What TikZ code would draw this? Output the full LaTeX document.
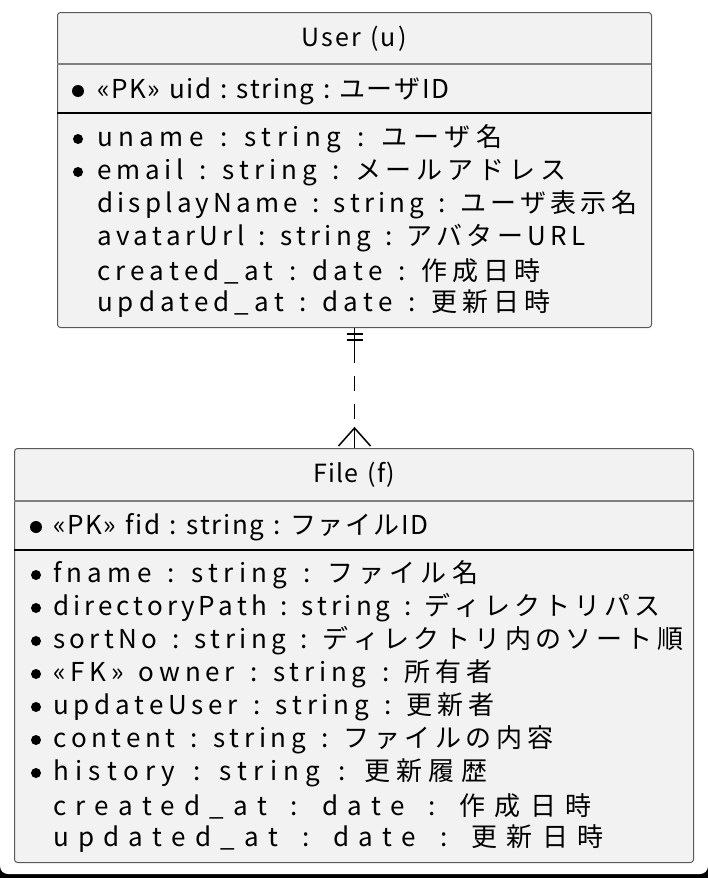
\documentclass[tikz,border=0pt]{standalone}
\usepackage{fontspec}
\setmainfont{Noto Sans CJK JP}
\usepackage{tikz}
\usetikzlibrary{positioning,calc}
\ExplSyntaxOn
\NewDocumentCommand\spread{mm}{\makebox[#1][s]{\tl_map_inline:nn{#2}{##1\hfil}\unskip}}
\ExplSyntaxOff
\tikzset{
  entity/.style={draw=black!65, fill=black!5, rounded corners=3pt, line width=1pt, inner sep=0pt, anchor=north west},
  entitytitle/.style={inner sep=0pt, font=\fontsize{25}{29}\selectfont},
  attr/.style={inner sep=0pt, anchor=west, font=\fontsize{26}{30}\selectfont},
  keydot/.style={circle, fill=black, inner sep=0pt, minimum size=12pt},
  attrdot/.style={circle, fill=black, inner sep=0pt, minimum size=10pt},
  titlerule/.style={draw=black!50, line width=1.2pt},
  keyrule/.style={draw=black, line width=1.8pt},
  relation/.style={line width=1.5pt, dash pattern=on 15pt off 13pt, dash phase=8pt},
  crowfoot/.style={line width=1.5pt},
}

\begin{document}
\begin{tikzpicture}[x=1pt, y=-1pt]
  \useasboundingbox (0,0) rectangle (708,878);
  \fill[black] (0,860) rectangle (708,878);
  \fill[white, rounded corners=8pt] (0,-20) rectangle (708,874);

  % User
  \node[entity, minimum width=594pt, minimum height=315pt] (user) at (57,12) {};
  \node[entitytitle] (usertitle) at (354,39) {\spread{105pt}{User~(u)}};
  \draw[titlerule] (57,64) -- (651,64);
  \node[keydot] (uiddot) at (78,91) {};
  \node[attr] (uid) at (97,91) {\spread{352pt}{«PK»~uid~:~string~:~ユーザID}};
  \draw[keyrule] (57,113) -- (651,113);
  \node[attrdot] (unamedot) at (78,139) {};
  \node[attr] (uname) at (97,139) {\spread{405pt}{uname~:~string~:~ユーザ名}};
  \node[attrdot] (emaildot) at (78,172) {};
  \node[attr] (email) at (97,172) {\spread{469pt}{email~:~string~:~メールアドレス}};
  \node[attr] (dispname) at (97,205) {\spread{540pt}{displayName~:~string~:~ユーザ表示名}};
  \node[attr] (avatar) at (97,238) {\spread{488pt}{avatarUrl~:~string~:~アバターURL}};
  \node[attr] (ucreated) at (97,271) {\spread{443pt}{created\_at~:~date~:~作成日時}};
  \node[attr] (uupdated) at (97,304) {\spread{453pt}{updated\_at~:~date~:~更新日時}};

  % File
  \node[entity, minimum width=679pt, minimum height=414pt] (file) at (14,448) {};
  \node[entitytitle] (filetitle) at (354,475) {\spread{82pt}{File~(f)}};
  \draw[titlerule] (14,501) -- (693,501);
  \node[keydot] (fiddot) at (36,527) {};
  \node[attr] (fid) at (53,527) {\spread{375pt}{«PK»~fid~:~string~:~ファイルID}};
  \draw[keyrule] (14,550) -- (693,550);
  \node[attrdot] (fnamedot) at (36,575) {};
  \node[attr] (fname) at (53,575) {\spread{425pt}{fname~:~string~:~ファイル名}};
  \node[attrdot] (dirdot) at (36,608) {};
  \node[attr] (dirpath) at (53,608) {\spread{607pt}{directoryPath~:~string~:~ディレクトリパス}};
  \node[attrdot] (sortdot) at (36,641) {};
  \node[attr] (sortno) at (53,641) {\spread{630pt}{sortNo~:~string~:~ディレクトリ内のソート順}};
  \node[attrdot] (ownerdot) at (36,674) {};
  \node[attr] (owner) at (53,674) {\spread{439pt}{«FK»~owner~:~string~:~所有者}};
  \node[attrdot] (upuserdot) at (36,707) {};
  \node[attr] (upuser) at (53,707) {\spread{441pt}{updateUser~:~string~:~更新者}};
  \node[attrdot] (contentdot) at (36,740) {};
  \node[attr] (content) at (53,740) {\spread{500pt}{content~:~string~:~ファイルの内容}};
  \node[attrdot] (historydot) at (36,773) {};
  \node[attr] (history) at (53,773) {\spread{434pt}{history~:~string~:~更新履歴}};
  \node[attr] (fcreated) at (53,806) {\spread{538pt}{created\_at~:~date~:~作成日時}};
  \node[attr] (fupdated) at (53,839) {\spread{550pt}{updated\_at~:~date~:~更新日時}};

  % relation u ||..o{ f
  \coordinate (apex) at ($(user.south |- file.north)+(0,-20)$);
  \draw[relation] (user.south) -- (user.south |- file.north);
  \draw[crowfoot] (user.south) -- ++(0,35);
  \draw[crowfoot] ($(user.south)+(-8,6)$) -- ++(16,0);
  \draw[crowfoot] ($(user.south)+(-8,12)$) -- ++(16,0);
  \draw[crowfoot] ($(apex)+(-16,18)$) -- (apex) -- ($(apex)+(16,18)$);
  \draw[crowfoot] (apex) -- (user.south |- file.north);
\end{tikzpicture}
\end{document}
